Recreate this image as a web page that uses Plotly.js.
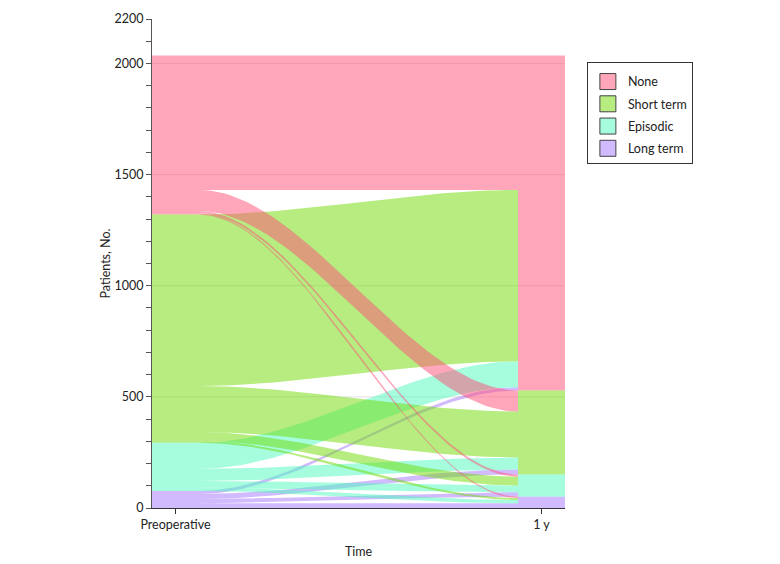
<!DOCTYPE html>
<html>
<head>
<meta charset="utf-8">
<script src="https://cdn.plot.ly/plotly-3.0.1.min.js"></script>
<style>html,body{margin:0;padding:0;background:#fff;}#chart{width:780px;height:564px;}</style>
</head>
<body>
<div id="chart"></div>
<script>
// ---- data ----
const categories = ["None", "Short term", "Episodic", "Long term"];
const timeLabels = ["Preoperative", "1 y"];
// flows from preoperative state (rows) to 1-year state (columns: None, Short term, Episodic, Long term)
const fromNone      = [605, 95, 10, 6];
const fromShortTerm = [771, 207, 40, 9];
const fromEpisodic  = [117, 54, 30, 15];
const fromLongTerm  = [14, 22, 20, 21];
const yTickVals = [0, 500, 1000, 1500, 2000, 2200];
const gridVals = [500, 1000, 1500, 2000];

// ---- styles ----
const singleColors = ["rgb(255,166,187)", "rgb(182,236,128)", "rgb(165,253,222)", "rgb(209,186,253)"];
const fillColors = ["rgba(255,77,119,0.5)", "rgba(109,217,1,0.5)", "rgba(75,251,189,0.5)", "rgba(163,117,251,0.5)"];
const halfW = 47 / 732;   // stratum half-width chosen so stratum edges fall on whole pixels
const FONT = "Lato, 'Liberation Sans', sans-serif";

const rows = [fromNone, fromShortTerm, fromEpisodic, fromLongTerm];
const n = categories.length;
const leftTot = rows.map(r => r.reduce((a, b) => a + b, 0));
const rightTot = categories.map((_, j) => rows.reduce((a, r) => a + r[j], 0));
function tops(tot) {
  const t = new Array(n);
  let acc = 0;
  for (let i = n - 1; i >= 0; i--) { acc += tot[i]; t[i] = acc; }
  return t;
}
const leftTop = tops(leftTot), rightTop = tops(rightTot);

const traces = [];
const xL = 1 + halfW, xR = 2 - halfW;
const N = 60;
function smooth(t) { return t * t * (3 - 2 * t); }

// flows: draw origin Long term first so None flows end on top
for (let i = n - 1; i >= 0; i--) {
  for (let j = 0; j < n; j++) {
    const v = rows[i][j];
    if (!v) continue;
    let lt = leftTop[i];
    for (let k = 0; k < j; k++) lt -= rows[i][k];
    let rt = rightTop[j];
    for (let k = 0; k < i; k++) rt -= rows[k][j];
    const lb = lt - v, rb = rt - v;
    const xs = [], ys = [];
    for (let s = 0; s <= N; s++) {
      const t = s / N, f = smooth(t);
      xs.push(xL + (xR - xL) * t); ys.push(lt + (rt - lt) * f);
    }
    for (let s = N; s >= 0; s--) {
      const t = s / N, f = smooth(t);
      xs.push(xL + (xR - xL) * t); ys.push(lb + (rb - lb) * f);
    }
    traces.push({x: xs, y: ys, type: "scatter", mode: "lines", fill: "toself",
      fillcolor: fillColors[i], line: {width: 0, color: fillColors[i]},
      hoverinfo: "skip", showlegend: false});
  }
}
// strata
[[1, leftTop, leftTot], [2, rightTop, rightTot]].forEach(([xc, tp, tot]) => {
  for (let i = 0; i < n; i++) {
    const t = tp[i], b = t - tot[i];
    traces.push({x: [xc - halfW, xc + halfW, xc + halfW, xc - halfW, xc - halfW],
      y: [b, b, t, t, b], type: "scatter", mode: "lines", fill: "toself",
      fillcolor: fillColors[i], line: {width: 0, color: fillColors[i]},
      hoverinfo: "skip", showlegend: false});
  }
});
// legend entries
categories.forEach((c, i) => {
  traces.push({x: [null], y: [null], type: "scatter", mode: "markers", name: c,
    legendgroup: c,
    marker: {symbol: "square", size: 16, color: singleColors[i], line: {color: "#444", width: 1}}});
});

const shapes = gridVals.map(v => ({type: "line", xref: "paper", x0: 0, x1: 1, yref: "y", y0: v, y1: v,
  line: {color: "rgba(0,0,0,0.12)", width: 1}, layer: "below"}));

const layout = {
  width: 780, height: 564,
  margin: {l: 152, r: 215, t: 19, b: 56},
  paper_bgcolor: "#fff", plot_bgcolor: "#fff",
  font: {family: FONT, size: 12, color: "#222"},
  showlegend: true,
  legend: {x: 1.053, y: 0.912, xanchor: "left", yanchor: "top", bordercolor: "#333", borderwidth: 1,
    itemwidth: 30,
    title: {text: " ", font: {size: 3}},
    font: {family: FONT, size: 12.5, color: "#222"}, tracegroupgap: 3, traceorder: "grouped", itemclick: false},
  xaxis: {range: [1 - halfW, 2 + halfW], tickvals: [1, 2], ticktext: timeLabels, showgrid: false, zeroline: false,
    showline: true, linecolor: "#333", ticks: "outside", ticklen: 5, tickcolor: "#333",
    tickfont: {family: FONT, size: 12.5, color: "#222"},
    title: {text: "Time", font: {family: FONT, size: 12.5, color: "#222"}}},
  yaxis: {range: [0, 2200], tickvals: yTickVals, showgrid: false, zeroline: false,
    showline: true, linecolor: "#555", ticks: "outside", ticklen: 5, tickcolor: "#555",
    minor: {dtick: 100, tick0: 0, ticks: "outside", ticklen: 5, tickcolor: "#555", showgrid: false},
    tickfont: {family: FONT, size: 12.5, color: "#222"},
    title: {text: "Patients, No.", font: {family: FONT, size: 12.5, color: "#222"}}},
  shapes: shapes
};
Plotly.newPlot("chart", traces, layout, {displayModeBar: false, staticPlot: true});
</script>
</body>
</html>
